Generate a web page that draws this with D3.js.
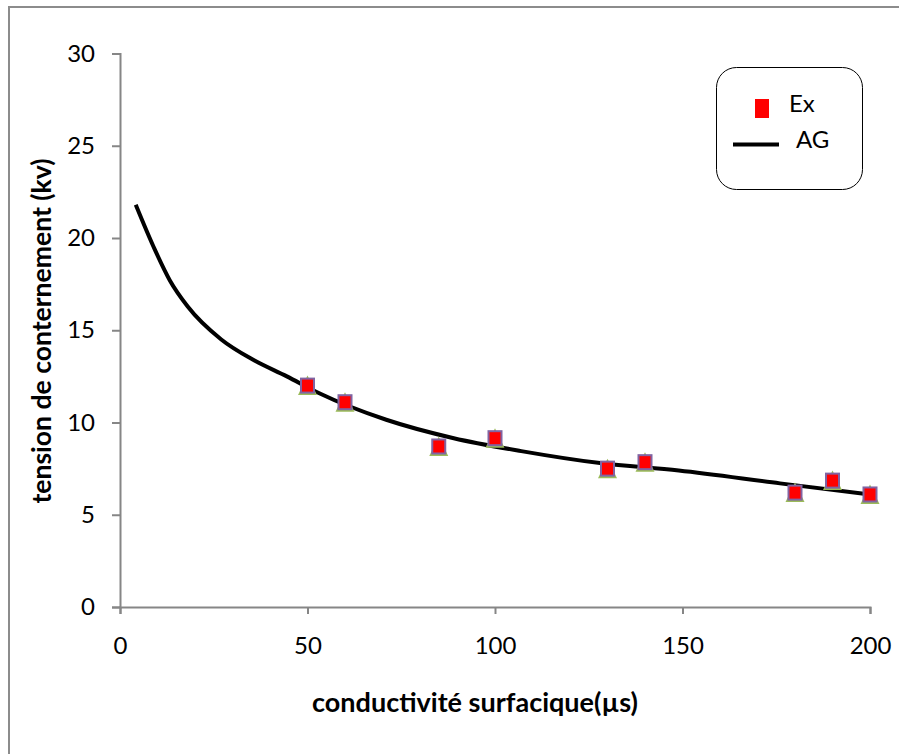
<!DOCTYPE html>
<html><head><meta charset="utf-8">
<script src="https://cdn.jsdelivr.net/npm/d3@7"></script>
<style>body{margin:0;background:#fff}svg{display:block}text{font-family:Lato,"Open Sans",sans-serif}</style>
</head><body>
<svg id="c" width="899" height="754"></svg>
<script>
// Data
const exX = [50, 60, 85, 100, 130, 140, 180, 190, 200];
const exY = [12.0, 11.1, 8.7, 9.15, 7.5, 7.85, 6.2, 6.85, 6.1];
const agX = [4.2, 9, 13.3, 18, 27, 35.5, 44.5, 53, 71, 89, 107, 128, 149, 176, 200];
const agY = [21.8, 19.5, 17.7, 16.3, 14.5, 13.4, 12.5, 11.6, 10.15, 9.15, 8.45, 7.8, 7.4, 6.7, 6.1];
const xTicks = [0, 50, 100, 150, 200];
const yTicks = [0, 5, 10, 15, 20, 25, 30];
const seriesNames = ["Ex", "AG"];
const xTitle = "conductivité surfacique(µs)";
const yTitle = "tension de conternement (kv)";

const svg = d3.select("#c");
const axisColor = "#868686";

// outer frame
svg.append("rect").attr("x", 9).attr("y", 7).attr("width", 900).attr("height", 760)
  .attr("fill", "none").attr("stroke", "#8c8c8c").attr("stroke-width", 2);

const x = d3.scaleLinear().domain([0, 200]).range([120, 870]);
const y = d3.scaleLinear().domain([0, 30]).range([607, 53.5]);

// y axis
const yAxis = svg.append("g").attr("transform", "translate(120,0)")
  .call(d3.axisLeft(y).tickValues(yTicks).tickSize(8).tickPadding(17).tickFormat(d3.format("d")));
// x axis
const xAxis = svg.append("g").attr("transform", "translate(0,607)")
  .call(d3.axisBottom(x).tickValues(xTicks).tickSize(7).tickPadding(23).tickFormat(d3.format("d")));
[yAxis, xAxis].forEach(g => {
  g.select(".domain").attr("stroke", axisColor).attr("stroke-width", 2);
  g.selectAll(".tick line").attr("stroke", axisColor).attr("stroke-width", 2);
  g.selectAll(".tick text").attr("fill", "#000").style("font-size", "24px").style("font-family", "Lato");
});

// AG curve
const agData = agX.map((v, i) => [v, agY[i]]);
svg.append("path").datum(agData)
  .attr("fill", "none").attr("stroke", "#000").attr("stroke-width", 4)
  .attr("d", d3.line().x(d => x(d[0])).y(d => y(d[1])).curve(d3.curveMonotoneX));

// Ex markers
const exData = exX.map((v, i) => [v, exY[i]]);
const mk = svg.append("g").selectAll("g").data(exData).join("g")
  .attr("transform", d => `translate(${x(d[0])},${y(d[1])})`);
mk.append("path").attr("d", "M0,-10 L9.5,9.5 L-9.5,9.5 Z").attr("fill", "#9BBB59");
mk.append("rect").attr("x", -6.5).attr("y", -7).attr("width", 13).attr("height", 14)
  .attr("fill", "#FF0000").attr("stroke", "#8064A2").attr("stroke-width", 2);

// Legend
const lg = svg.append("g");
lg.append("rect").attr("x", 716.5).attr("y", 67.5).attr("width", 146).attr("height", 122)
  .attr("rx", 20).attr("fill", "#fff").attr("stroke", "#000").attr("stroke-width", 1);
lg.append("rect").attr("x", 755).attr("y", 99).attr("width", 14).attr("height", 19).attr("fill", "#FF0000");
lg.append("text").attr("x", 789).attr("y", 112).style("font-size", "24px").text(seriesNames[0]);
lg.append("line").attr("x1", 733).attr("x2", 779).attr("y1", 144.5).attr("y2", 144.5)
  .attr("stroke", "#000").attr("stroke-width", 4);
lg.append("text").attr("x", 796).attr("y", 148).style("font-size", "24px").text(seriesNames[1]);

// Axis titles, sized to fit the widths seen in the reference
function fitText(sel, target) {
  sel.style("font-size", "100px");
  const w = sel.node().getComputedTextLength();
  sel.style("font-size", (100 * target / w).toFixed(2) + "px");
}
const xt = svg.append("text").attr("x", 475).attr("y", 712).attr("text-anchor", "middle")
  .style("font-weight", "bold").text(xTitle);
fitText(xt, 326);
const yt = svg.append("text").attr("transform", "translate(51,331) rotate(-90)").attr("text-anchor", "middle")
  .style("font-weight", "bold").text(yTitle);
fitText(yt, 345);
</script>
</body></html>
